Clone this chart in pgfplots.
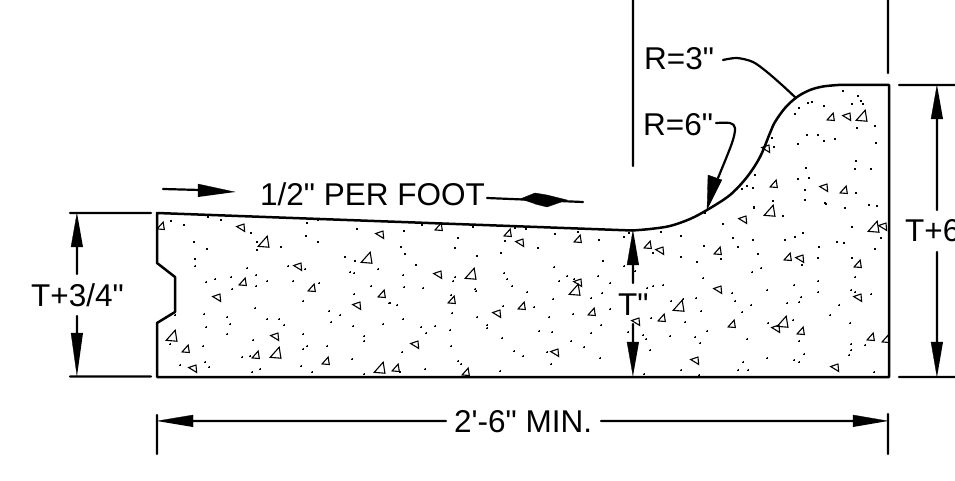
\documentclass[border=0pt]{standalone}
\usepackage{fontspec}
\setmainfont{Liberation Sans}[Ligatures=TeXOff]
\usepackage{pgfplots}
\usepackage{pgfplotstable}
\pgfplotsset{compat=1.18}

% aggregate symbol of the concrete hatch, slightly skewed
\pgfdeclareplotmark{aggr}{%
  \pgfpathmoveto{\pgfqpoint{-1\pgfplotmarksize}{-.75\pgfplotmarksize}}%
  \pgfpathlineto{\pgfqpoint{.85\pgfplotmarksize}{-.9\pgfplotmarksize}}%
  \pgfpathlineto{\pgfqpoint{.55\pgfplotmarksize}{1\pgfplotmarksize}}%
  \pgfpathclose\pgfusepathqstroke}

\tikzset{lab/.style={inner sep=0pt, font=\fontsize{31.5}{34}\selectfont, anchor=base west}}

% all positions are reference pixels, y running down
\pgfplotstableread{
x y
264 242
367 258
172 336
276 353
380 368
471 274
575 290
770 211
874 227
679 306
783 322
862 116
}\bigup
\pgfplotstableread{
x y
161 226
243 282
312 288
382 294
186 349
256 355
326 361
439 227
508 233
578 239
452 300
522 306
592 312
396 368
466 372
648 245
718 251
788 257
858 264
662 318
732 324
801 331
871 337
886 339
831 117
774 184
844 190
}\smallup
\pgfplotstableread{
x y
241 228
298 267
217 298
357 306
275 337
193 369
380 235
520 243
438 275
578 283
497 314
415 345
555 353
743 220
883 227
660 251
800 259
718 290
858 298
636 322
776 329
695 361
835 368
847 117
766 149
824 188
}\leftpts
\pgfplotstableread{
x y
171 221
184 225
208 217
221 220
251 233
194 242
207 249
257 242
257 250
281 247
307 223
318 220
306 236
318 242
357 229
345 257
355 261
350 272
354 273
378 269
195 259
195 266
247 268
288 266
305 269
256 275
215 279
206 282
231 277
267 281
293 281
256 286
232 289
319 283
371 286
354 294
303 301
255 308
389 303
329 311
340 315
331 322
204 314
227 317
230 324
267 319
279 319
284 325
353 326
383 324
206 327
227 334
253 340
303 334
364 336
364 341
170 344
203 346
307 346
303 349
327 346
242 357
250 356
352 359
205 362
209 367
180 365
301 366
312 372
364 374
252 372
260 369
175 315
404 231
422 225
473 227
458 238
455 248
477 256
401 247
405 254
416 265
403 275
455 277
453 281
404 287
423 288
475 289
476 291
451 295
390 303
397 305
452 313
477 317
403 319
421 327
435 326
426 333
450 330
487 325
487 328
451 346
402 352
502 338
458 361
461 364
425 369
500 371
400 372
515 228
526 229
555 234
578 232
599 240
624 237
629 233
505 241
538 248
501 253
603 261
554 267
624 266
635 271
504 273
507 279
512 286
527 292
559 281
567 276
574 279
598 276
610 283
602 293
591 298
553 299
503 306
534 307
549 317
573 314
610 309
601 325
591 333
539 331
552 332
628 332
571 341
584 347
514 351
523 356
547 352
551 364
600 358
661 232
681 236
704 246
723 224
705 213
754 208
773 201
783 216
805 200
826 204
845 208
869 205
877 206
852 227
881 238
733 238
753 240
738 247
785 240
795 237
803 233
819 247
837 242
844 243
875 249
758 254
681 257
697 262
721 259
653 253
818 258
802 265
852 258
855 277
761 268
752 272
703 278
794 285
818 281
818 292
767 290
653 286
663 285
647 288
732 293
735 301
696 298
683 299
671 301
701 311
751 305
742 312
787 303
799 302
801 297
839 305
851 290
855 292
871 294
830 315
850 323
793 320
768 323
651 318
685 322
707 331
670 336
695 337
700 343
643 335
646 339
650 350
747 339
799 341
851 344
865 345
851 350
849 355
804 354
767 358
794 360
799 362
743 362
738 370
748 370
681 370
644 374
874 372
699 375
843 91
858 96
861 101
863 104
852 104
824 106
812 102
808 103
799 108
795 114
875 126
857 128
807 135
818 135
824 141
835 139
798 144
876 143
772 138
774 147
856 161
855 169
871 169
806 168
798 179
809 178
755 175
747 186
742 189
753 188
805 190
856 193
805 200
825 203
869 205
754 207
}\dots

\begin{document}
\begin{tikzpicture}
\path[use as bounding box, clip] (0,0) rectangle (955pt,481pt);
\begin{axis}[
    at={(0,0)}, anchor=south west,
    scale only axis, width=955pt, height=481pt,
    xmin=0, xmax=955, ymin=0, ymax=481, y dir=reverse,
    hide axis, clip=false,
    ]
% hatch
\addplot[only marks, mark=*, mark size=0.55pt, mark options={draw=black, fill=black, line width=0pt}] table {\dots};
\addplot[only marks, mark=aggr, mark size=5.8pt, mark options={solid, line width=1.1pt}] table {\bigup};
\addplot[only marks, mark=aggr, mark size=3.9pt, mark options={solid, line width=1.1pt}] table {\smallup};
\addplot[only marks, mark=aggr, mark size=4pt, mark options={solid, line width=1.1pt, rotate=100}] table {\leftpts};

% slab outline
\addplot[line width=2.5pt, line join=round, line cap=round] coordinates {
  (632,230.5) (157,213) (157,263) (175,277) (175,312) (157,323) (157,377) (889,377) (889,85) (838,85)
};
\addplot[line width=2.5pt, smooth, tension=0.55, line cap=round] coordinates {
  (632,230.5) (650,229) (670,226) (690,219) (707,210) (730,195) (747,177) (760,157)
  (770,133) (775,122) (785,108) (797,97) (810,90) (823,86.5) (838,85)
};

% extension and dimension lines
\addplot[line width=2.2pt, line cap=round] coordinates {
  (633,0) (633,166)

  (888,0) (888,73)

  (70,213) (151,213)

  (70,376.5) (151,376.5)

  (899,85) (960,85)

  (899,377) (960,377)

  (157,415) (157,454)

  (888,414) (888,454)

  (77,240) (77,274)

  (77,316) (77,340)

  (937,115) (937,210)

  (937,252) (937,345)

  (633,260) (633,283)

  (633,324) (633,345)

  (446,421) (190,421)

  (601,421) (855,421)

  (163,189) (200,190)

  (487,198) (583,202)
};

% leaders
\addplot[line width=2.2pt, smooth, tension=0.5, line cap=round] coordinates {
  (723,60) (737,58) (753,62) (767,72) (782,85) (796,98)
};
\addplot[line width=2.2pt, smooth, tension=0.5, line cap=round] coordinates {
  (716,123) (730,123) (735,128) (732,143) (718,178)
};

% arrowheads
\addplot[fill=black, draw=black, line width=0.3pt] coordinates {
  (77,213) (71,247) (83,247)

  (77,376) (71,333) (83,333)

  (937,85) (931,119) (943,119)

  (937,377) (931,342) (943,342)

  (633,230) (627,265) (639,265)

  (633,376) (627,342) (639,342)

  (157,421) (193,415) (193,427)

  (888,421) (853,415) (853,427)

  (235,192) (198,184) (198,197)

  (707,210) (708,175) (722,180)

  (520,199) (535,193) (547,195) (567,200) (547,207) (535,204)
};

% labels
\node[lab] at (axis cs:260,206) {1/2" PER FOOT};
\node[lab] at (axis cs:31,306) {T+3/4"};
\node[lab] at (axis cs:905,242) {T+6};
\node[lab] at (axis cs:618,315) {T"};
\node[lab] at (axis cs:644,70) {R=3"};
\node[lab] at (axis cs:643,136) {R=6"};
\node[lab] at (axis cs:454,432) {2'-6" MIN.};
\end{axis}
\end{tikzpicture}
\end{document}
